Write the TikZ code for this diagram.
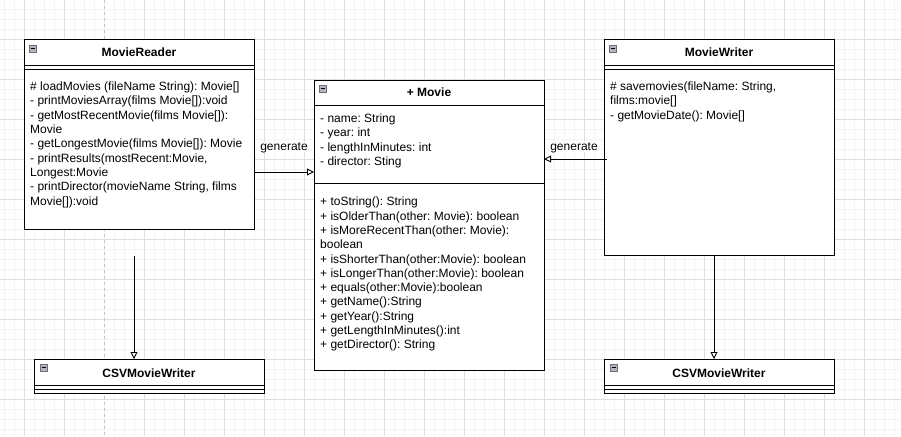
\documentclass[tikz,border=0pt]{standalone}
\usepackage{fontspec}
\setmainfont{Liberation Sans}
\usetikzlibrary{arrows.meta,calc}
\definecolor{gridmajor}{HTML}{DEDEDE}
\definecolor{gridminor}{HTML}{F3F3F3}
\definecolor{pagebreak}{HTML}{C4C4C4}
\definecolor{iconfill}{HTML}{B4B4BC}
\definecolor{iconedge}{HTML}{6E6E78}
\frenchspacing
\begin{document}
\frenchspacing
\begin{tikzpicture}[x=1pt,y=-1pt,
  box/.style={draw=black, line width=1pt, anchor=north west, inner sep=0pt, outer sep=0pt, minimum width=230pt},
  sep/.style={draw=black, line width=1pt},
  mem/.style={font=\fontsize{12}{14}\selectfont\frenchspacing, anchor=base west, inner sep=0pt},
  ttl/.style={font=\fontsize{12}{14}\selectfont\bfseries, anchor=base, inner sep=0pt},
  lbl/.style={font=\fontsize{12}{14}\selectfont, anchor=base, inner sep=0pt, fill=white},
  conn/.style={draw=black, line width=0.9pt, -{Triangle[open, length=7pt, width=7pt, fill=white]}},
  icon/.style={draw=iconedge, fill=iconfill, line width=0.6pt, minimum size=7pt, inner sep=0pt, anchor=north west,
    path picture={\draw[black, line width=0.9pt] ([xshift=1.5pt]path picture bounding box.west) -- ([xshift=-1.5pt]path picture bounding box.east);}}
]
% background and grid
\path[fill=white] (0,0) rectangle (901,436);
\useasboundingbox (0,0) rectangle (901,436);
\foreach \x in {4,14,...,900} \draw[gridminor, line width=0.8pt] (\x,0) -- (\x,436);
\foreach \y in {9,19,...,435} \draw[gridminor, line width=0.8pt] (0,\y) -- (901,\y);
\foreach \x in {24,64,144,184,...,900} \draw[gridmajor, line width=0.8pt] (\x,0) -- (\x,436);
\foreach \y in {39,79,...,435} \draw[gridmajor, line width=0.8pt] (0,\y) -- (901,\y);
\draw[pagebreak, line width=0.8pt, dash pattern=on 3pt off 3pt] (104,0) -- (104,436);

% ---------- MovieReader ----------
\node[box, minimum height=189pt, fill=white] (reader) at (24,40) {};
\draw[sep] ($(reader.north west)+(0,25)$) -- ($(reader.north east)+(0,25)$);
\draw[sep] ($(reader.north west)+(0,29)$) -- ($(reader.north east)+(0,29)$);
\node[icon] (ricon) at ($(reader.north west)+(5,5)$) {};
\node[ttl] (rtitle) at (139,56.5) {MovieReader};
\foreach \t [count=\i from 0] in {{\# loadMovies (fileName String): Movie[]},
  {- printMoviesArray(films Movie[]):void},
  {- getMostRecentMovie(films Movie[]):},
  {Movie},
  {- getLongestMovie(films Movie[]): Movie},
  {- printResults(mostRecent:Movie,},
  {Longest:Movie},
  {- printDirector(movieName String, films},
  {Movie[]):void}}
  \node[mem] (r\i) at (30,90.6+14.3*\i) {\t};

% ---------- Movie ----------
\node[box, minimum height=290pt, fill=white] (movie) at (314,80) {};
\draw[sep] ($(movie.north west)+(0,25)$) -- ($(movie.north east)+(0,25)$);
\draw[sep] ($(movie.north west)+(0,103)$) -- ($(movie.north east)+(0,103)$);
\node[icon] (micon) at ($(movie.north west)+(5,5)$) {};
\node[ttl] (mtitle) at (429,96.5) {+ Movie};
\foreach \t [count=\i from 0] in {{- name: String},
  {- year: int},
  {- lengthInMinutes: int},
  {- director: Sting}}
  \node[mem] (ma\i) at (320,122.3+14.4*\i) {\t};
\foreach \t [count=\i from 0] in {{+ toString(): String},
  {+ isOlderThan(other: Movie): boolean},
  {+ isMoreRecentThan(other: Movie):},
  {boolean},
  {+ isShorterThan(other:Movie): boolean},
  {+ isLongerThan(other:Movie): boolean},
  {+ equals(other:Movie):boolean},
  {+ getName():String},
  {+ getYear():String},
  {+ getLengthInMinutes():int},
  {+ getDirector(): String}}
  \node[mem] (mm\i) at (320,205.8+14.3*\i) {\t};

% ---------- MovieWriter ----------
\node[box, minimum height=215pt, fill=white] (writer) at (604,40) {};
\draw[sep] ($(writer.north west)+(0,25)$) -- ($(writer.north east)+(0,25)$);
\draw[sep] ($(writer.north west)+(0,29)$) -- ($(writer.north east)+(0,29)$);
\node[icon] (wicon) at ($(writer.north west)+(5,5)$) {};
\node[ttl] (wtitle) at (719,56.5) {MovieWriter};
\foreach \t [count=\i from 0] in {{\# savemovies(fileName: String,},
  {films:movie[]},
  {- getMovieDate(): Movie[]}}
  \node[mem] (w\i) at (610,90.6+14.3*\i) {\t};

% ---------- CSVMovieWriter (left) ----------
\node[box, minimum height=34pt, fill=white] (csvl) at (34,359) {};
\draw[sep] ($(csvl.north west)+(0,26)$) -- ($(csvl.north east)+(0,26)$);
\draw[sep] ($(csvl.north west)+(0,30)$) -- ($(csvl.north east)+(0,30)$);
\node[icon] (clicon) at ($(csvl.north west)+(6,5)$) {};
\node[ttl] (cltitle) at (149,377.5) {CSVMovieWriter};

% ---------- CSVMovieWriter (right) ----------
\node[box, minimum height=34pt, fill=white] (csvr) at (604,359) {};
\draw[sep] ($(csvr.north west)+(0,26)$) -- ($(csvr.north east)+(0,26)$);
\draw[sep] ($(csvr.north west)+(0,30)$) -- ($(csvr.north east)+(0,30)$);
\node[icon] (cricon) at ($(csvr.north west)+(6,5)$) {};
\node[ttl] (crtitle) at (719,377.5) {CSVMovieWriter};

% ---------- connectors ----------
\coordinate (rdend) at (134,256);
\draw[conn] (rdend) -- (rdend |- csvl.north);
\coordinate (wx) at (714,0);
\draw[conn] (writer.south -| wx) -- (csvr.north -| wx);

\coordinate (gl) at (0,172);
\draw[conn] (reader.east |- gl) -- (movie.west |- gl);
\node[lbl] (lgen) at (284,150) {generate};

\coordinate (gr) at (607,159);
\draw[conn] (gr) -- (movie.east |- gr);
\node[lbl] (rgen) at (574,150) {generate};
\end{tikzpicture}
\end{document}
